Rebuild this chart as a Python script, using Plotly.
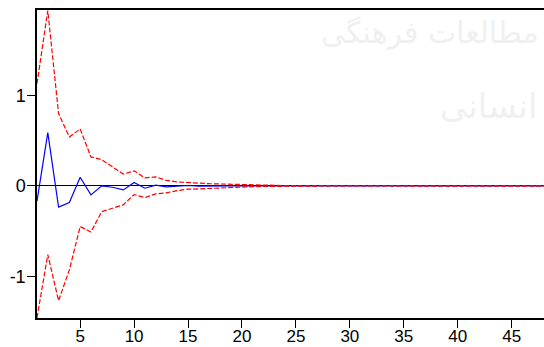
import plotly.graph_objects as go

# Impulse response with +/- 2 S.E. bands, periods 1..48
periods = list(range(1, 49))

response = [-0.17, 0.59, -0.235, -0.185, 0.096, -0.10, 0.0, -0.015, -0.045, 0.037,
            -0.026, 0.008, -0.012, -0.004, 0.004, -0.002, 0.001, -0.001, 0.0, 0.0,
            0.0, 0.0, 0.0, 0.0, 0.0, 0.0, 0.0, 0.0, 0.0, 0.0,
            0.0, 0.0, 0.0, 0.0, 0.0, 0.0, 0.0, 0.0, 0.0, 0.0,
            0.0, 0.0, 0.0, 0.0, 0.0, 0.0, 0.0, 0.0]

upper_band = [1.13, 1.94, 0.80, 0.54, 0.63, 0.32, 0.29, 0.21, 0.13, 0.166,
              0.088, 0.10, 0.06, 0.044, 0.033, 0.03, 0.024, 0.02, 0.015, 0.011,
              0.008, 0.006, 0.004, 0.003, 0.002, 0.002, 0.001, 0.001, 0.001, 0.0,
              0.0, 0.0, 0.0, 0.0, 0.0, 0.0, 0.0, 0.0, 0.0, 0.0,
              0.0, 0.0, 0.0, 0.0, 0.0, 0.0, 0.0, 0.0]

lower_band = [-1.46, -0.76, -1.27, -0.93, -0.45, -0.51, -0.285, -0.25, -0.21, -0.096,
              -0.13, -0.088, -0.077, -0.052, -0.037, -0.033, -0.027, -0.022, -0.016, -0.012,
              -0.009, -0.006, -0.004, -0.003, -0.002, -0.002, -0.001, -0.001, -0.001, 0.0,
              0.0, 0.0, 0.0, 0.0, 0.0, 0.0, 0.0, 0.0, 0.0, 0.0,
              0.0, 0.0, 0.0, 0.0, 0.0, 0.0, 0.0, 0.0]

x_ticks = [5, 10, 15, 20, 25, 30, 35, 40, 45]
y_tick_vals = [-1, 0, 1]
y_tick_text = ["-1", "0", "1"]

fig = go.Figure()

fig.add_trace(go.Scatter(x=periods, y=response, mode="lines",
                         line=dict(color="#0000ff", width=1.2)))
fig.add_trace(go.Scatter(x=periods, y=upper_band, mode="lines",
                         line=dict(color="#ff0000", width=1.2, dash="5px,2px")))
fig.add_trace(go.Scatter(x=periods, y=lower_band, mode="lines",
                         line=dict(color="#ff0000", width=1.2, dash="5px,2px")))

# faint background watermark
fig.add_annotation(text="مطالعات فرهنگی", xref="paper", yref="paper",
                   x=0.995, y=0.99, xanchor="right", yanchor="top", showarrow=False,
                   font=dict(family="DejaVu Sans", size=30, color="#f0f0f0"))
fig.add_annotation(text="انسانی", xref="paper", yref="paper",
                   x=0.99, y=0.76, xanchor="right", yanchor="top", showarrow=False,
                   font=dict(family="DejaVu Sans", size=34, color="#f0f0f0"))

fig.update_layout(
    width=544, height=347,
    margin=dict(l=37, r=0, t=10, b=29, autoexpand=False),
    paper_bgcolor="white", plot_bgcolor="rgba(0,0,0,0)",
    showlegend=False,
    font=dict(family="Liberation Sans, Arial, sans-serif", size=18, color="black"),
)

fig.update_xaxes(
    range=[1, 48], tickvals=x_ticks, ticks="outside", ticklen=8, tickwidth=1,
    tickcolor="black", showline=True, linecolor="black", linewidth=1.5,
    mirror=True, showgrid=False, zeroline=False, ticklabelstandoff=-6,
    tickfont=dict(size=17), automargin=False,
)
fig.update_yaxes(
    range=[-1.462, 1.946], tickvals=y_tick_vals, ticktext=y_tick_text,
    ticks="outside", ticklen=8, tickwidth=1, tickcolor="black",
    showline=True, linecolor="black", linewidth=1.5, showgrid=False,
    zeroline=True, zerolinecolor="black", zerolinewidth=1, ticklabelstandoff=-2,
    automargin=False,
)

fig.write_html("out.html")
